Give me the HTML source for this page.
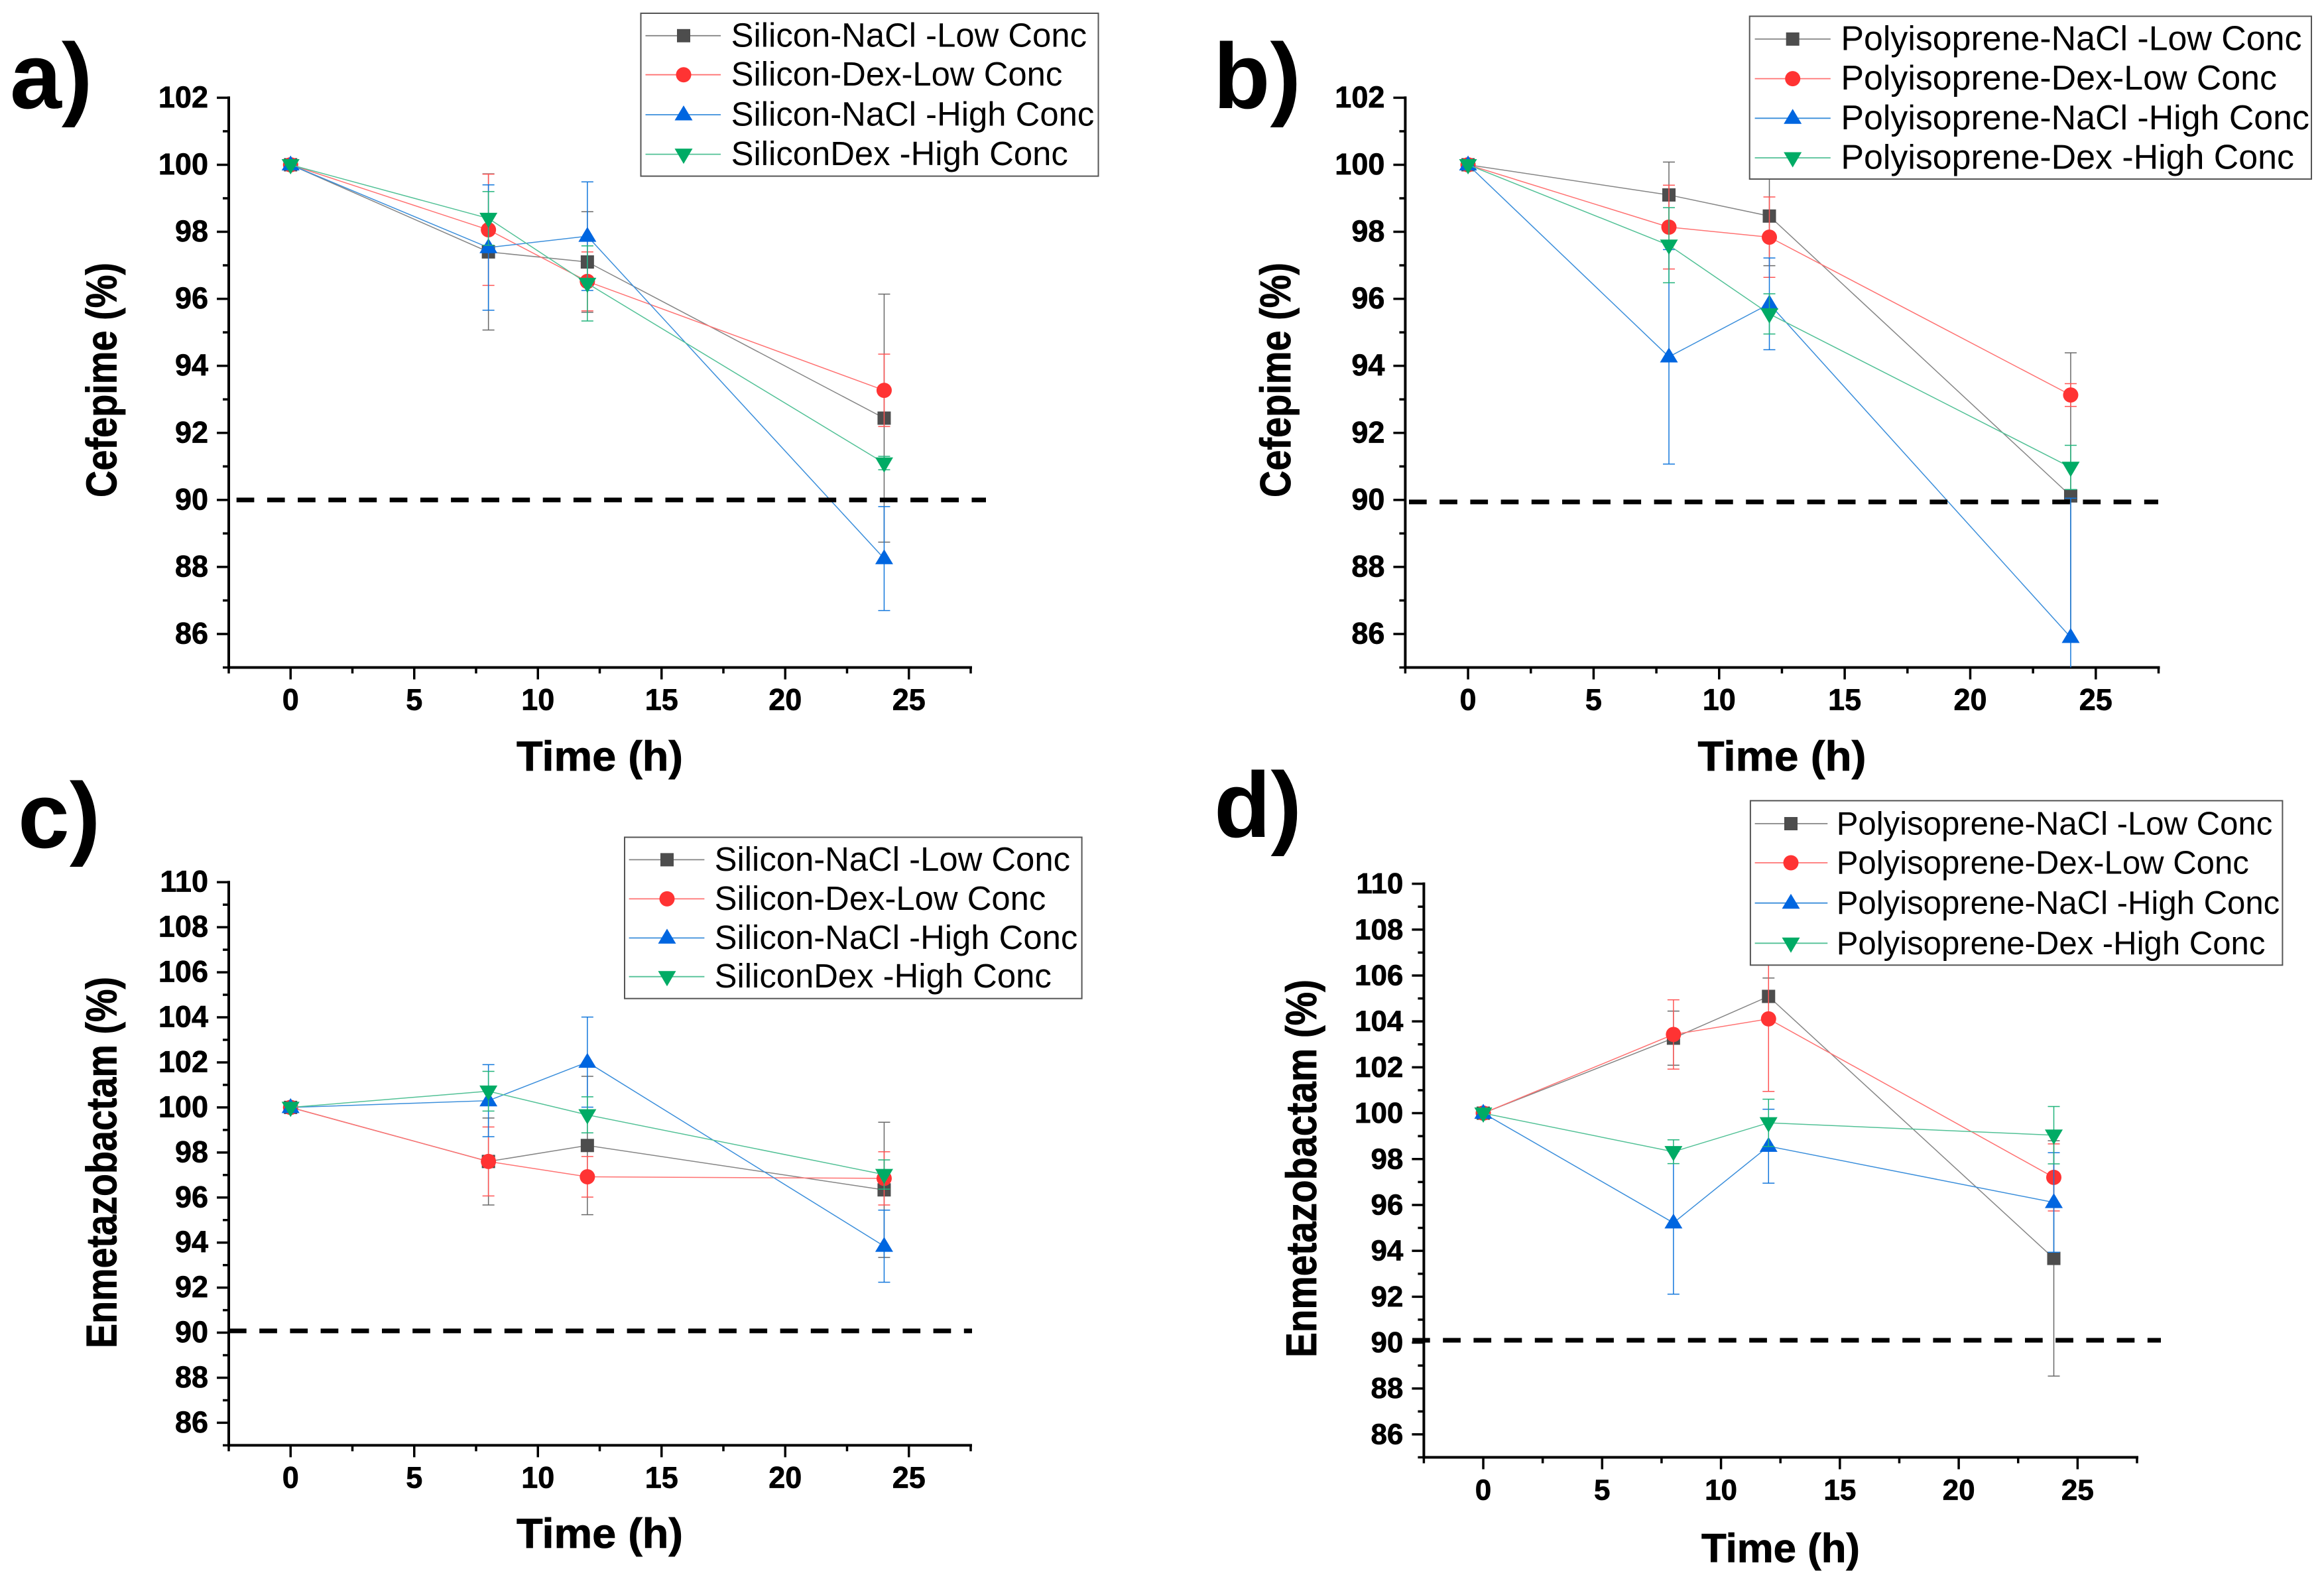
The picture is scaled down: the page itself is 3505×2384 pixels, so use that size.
<!DOCTYPE html>
<html lang="en">
<head>
<meta charset="utf-8">
<title>Cefepime and Enmetazobactam stability over time</title>
<style>
html,body{margin:0;padding:0;background:#fff;}
svg{display:block;font-family:"Liberation Sans",Arial,sans-serif;}
</style>
</head>
<body>
<svg id="figure" xmlns="http://www.w3.org/2000/svg" width="3505" height="2384" viewBox="0 0 3505 2384">
<rect x="0" y="0" width="3505" height="2384" fill="#ffffff"/>
</svg>
<script>
// ---------- shared categories and tick labels ----------
const times = [0, 8, 12, 24];
const xMajorTicks = [0, 5, 10, 15, 20, 25];
const xMinorTicks = [-2.5, 2.5, 7.5, 12.5, 17.5, 22.5, 27.5];
const cefepimeTicks = [86, 88, 90, 92, 94, 96, 98, 100, 102];
const enmetazobactamTicks = [86, 88, 90, 92, 94, 96, 98, 100, 102, 104, 106, 108, 110];

// ---------- legend labels ----------
const siliconNames = ["Silicon-NaCl -Low Conc", "Silicon-Dex-Low Conc", "Silicon-NaCl -High Conc", "SiliconDex -High Conc"];
const polyisopreneNames = ["Polyisoprene-NaCl -Low Conc", "Polyisoprene-Dex-Low Conc", "Polyisoprene-NaCl -High Conc", "Polyisoprene-Dex -High Conc"];

// ---------- panel a: Silicon, Cefepime ----------
const aNaclLow = [100, 97.4, 97.1, 92.44];
const aNaclLowErr = [0, 2.33, 1.5, 3.7];
const aDexLow = [100, 98.06, 96.52, 93.27];
const aDexLowErr = [0, 1.66, 0.88, 1.08];
const aNaclHigh = [100, 97.53, 97.87, 88.25];
const aNaclHighErr = [0, 1.87, 1.62, 1.55];
const aDexHigh = [100, 98.4, 96.46, 91.1];
const aDexHighErr = [0, 0.8, 1.12, 0.2];

// ---------- panel b: Polyisoprene, Cefepime ----------
const bNaclLow = [100, 99.1, 98.47, 90.12];
const bNaclLowErr = [0, 0.98, 1.48, 4.27];
const bDexLow = [100, 98.14, 97.84, 93.13];
const bDexLowErr = [0, 1.25, 1.2, 0.34];
const bNaclHigh = [100, 94.27, 95.85, 85.9];
const bNaclHighErr = [0, 3.2, 1.37, 4.15];
const bDexHigh = [100, 97.6, 95.55, 90.97];
const bDexHighErr = [0, 1.12, 0.6, 0.66];

// ---------- panel c: Silicon, Enmetazobactam ----------
const cNaclLow = [100, 97.6, 98.31, 96.34];
const cNaclLowErr = [0, 1.93, 3.07, 3.0];
const cDexLow = [100, 97.6, 96.92, 96.85];
const cDexLowErr = [0, 1.53, 0.9, 1.18];
const cNaclHigh = [100, 100.3, 102.01, 93.84];
const cNaclHighErr = [0, 1.6, 2.0, 1.6];
const cDexHigh = [100, 100.72, 99.67, 97.02];
const cDexHighErr = [0, 0.88, 0.8, 0.65];

// ---------- panel d: Polyisoprene, Enmetazobactam ----------
const dNaclLow = [100, 103.27, 105.09, 93.67];
const dNaclLowErr = [0, 1.18, 0.8, 5.13];
const dDexLow = [100, 103.43, 104.11, 97.2];
const dDexLowErr = [0, 1.51, 3.16, 1.46];
const dNaclHigh = [100, 95.22, 98.56, 96.11];
const dNaclHighErr = [0, 3.11, 1.61, 2.17];
const dDexHigh = [100, 98.32, 99.58, 99.04];
const dDexHighErr = [0, 0.52, 1.03, 1.25];

// ---------- reference line values ----------
const aLimit = 90;
const bLimit = 89.94;
const cLimit = 90.08;
const dLimit = 90.1;

// ---------- series styling ----------
const markerColors = ["#4d4d4d", "#ff3333", "#0066e0", "#00ab65"];
const lineColors = ["#858585", "#ff7272", "#3a8edb", "#52c196"];
const errorColors = ["#6a6a6a", "#ff5555", "#1478dc", "#22b47c"];
const markerKinds = ["square", "circle", "up", "down"];
const seriesKeys = ["nacl-low", "dex-low", "nacl-high", "dex-high"];

// ---------- panel layouts ----------
const panels = [
  { key: "a", letter: "a)", letterX: 15, letterY: 163, letterSize: 140,
    left: 345, right: 1464, top: 147.4, bottom: 1006.5, yMax: 102, yTicks: cefepimeTicks, tickFont: 45,
    yTitle: "Cefepime (%)", yTitleX: 175.6, yTitleY: 573, yTitleLen: 354, yTitleFont: 65,
    xTitleX: 779, xTitleLen: 251, xTitleY: 1162, xTitleFont: 63,
    limit: aLimit, dashFrom: 356.7, dashTo: 1487,
    series: [aNaclLow, aDexLow, aNaclHigh, aDexHigh], errors: [aNaclLowErr, aDexLowErr, aNaclHighErr, aDexHighErr],
    names: siliconNames, legend: { x: 966.5, y: 20, w: 690, h: 245.6, rows: [53.8, 112.7, 173, 232.6], lineFrom: 973.5, lineTo: 1087, marker: 1031, text: 1102.6, font: 50.8 } },
  { key: "b", letter: "b)", letterX: 1830, letterY: 163, letterSize: 140,
    left: 2119.4, right: 3255.5, top: 147.4, bottom: 1006.5, yMax: 102, yTicks: cefepimeTicks, tickFont: 45,
    yTitle: "Cefepime (%)", yTitleX: 1946, yTitleY: 573, yTitleLen: 354, yTitleFont: 65,
    xTitleX: 2560.5, xTitleLen: 254, xTitleY: 1162, xTitleFont: 63,
    limit: bLimit, dashFrom: 2125, dashTo: 3255,
    series: [bNaclLow, bDexLow, bNaclHigh, bDexHigh], errors: [bNaclLowErr, bDexLowErr, bNaclHighErr, bDexHighErr],
    names: polyisopreneNames, legend: { x: 2638.7, y: 24.5, w: 847.3, h: 245.5, rows: [58.9, 118.6, 178.3, 238], lineFrom: 2646.6, lineTo: 2760.8, marker: 2703.7, text: 2776.4, font: 51.9 } },
  { key: "c", letter: "c)", letterX: 27, letterY: 1278, letterSize: 140,
    left: 345, right: 1464, top: 1330.2, bottom: 2179.4, yMax: 110, yTicks: enmetazobactamTicks, tickFont: 45,
    yTitle: "Enmetazobactam (%)", yTitleX: 175.6, yTitleY: 1753, yTitleLen: 560, yTitleFont: 65,
    xTitleX: 779, xTitleLen: 251, xTitleY: 2334, xTitleFont: 63,
    limit: cLimit, dashFrom: 345, dashTo: 1466,
    series: [cNaclLow, cDexLow, cNaclHigh, cDexHigh], errors: [cNaclLowErr, cDexLowErr, cNaclHighErr, cDexHighErr],
    names: siliconNames, legend: { x: 942, y: 1262.5, w: 689.6, h: 243.2, rows: [1296.4, 1355.4, 1414.4, 1472.7], lineFrom: 948.6, lineTo: 1062.4, marker: 1006, text: 1077.6, font: 50.8 } },
  { key: "d", letter: "d)", letterX: 1831, letterY: 1262, letterSize: 140,
    left: 2147.4, right: 3223, top: 1332.6, bottom: 2197.5, yMax: 110, yTicks: enmetazobactamTicks, tickFont: 44,
    yTitle: "Enmetazobactam (%)", yTitleX: 1985, yTitleY: 1762, yTitleLen: 570, yTitleFont: 65,
    xTitleX: 2566, xTitleLen: 239, xTitleY: 2355.6, xTitleFont: 61,
    limit: dLimit, dashFrom: 2130, dashTo: 3259,
    series: [dNaclLow, dDexLow, dNaclHigh, dDexHigh], errors: [dNaclLowErr, dDexLowErr, dNaclHighErr, dDexHighErr],
    names: polyisopreneNames, legend: { x: 2639.9, y: 1207.4, w: 802.5, h: 247.9, rows: [1242, 1301, 1361.7, 1422.3], lineFrom: 2646.6, lineTo: 2756.3, marker: 2701, text: 2769.7, font: 49.1 } }
];

const X_MIN = -2.5, X_MAX = 27.5, Y_MIN = 85;
const SVG_NS = "http://www.w3.org/2000/svg";
const root = document.getElementById("figure");

function make(tag, attrs, parent) {
  const el = document.createElementNS(SVG_NS, tag);
  for (const k in attrs) el.setAttribute(k, attrs[k]);
  parent.appendChild(el);
  return el;
}

function drawMarker(kind, cx, cy, color, parent) {
  let el;
  if (kind === "square") {
    el = make("rect", { x: cx - 10, y: cy - 10, width: 20, height: 20, fill: color }, parent);
  } else if (kind === "circle") {
    el = make("circle", { cx: cx, cy: cy, r: 11.5, fill: color }, parent);
  } else if (kind === "up") {
    el = make("polygon", { points: (cx - 13.5) + "," + (cy + 8.5) + " " + (cx + 13.5) + "," + (cy + 8.5) + " " + cx + "," + (cy - 14), fill: color }, parent);
  } else {
    el = make("polygon", { points: (cx - 13.5) + "," + (cy - 8.5) + " " + (cx + 13.5) + "," + (cy - 8.5) + " " + cx + "," + (cy + 14.5), fill: color }, parent);
  }
  return el;
}

function drawPanel(p) {
  const xScale = v => p.left + (v - X_MIN) * (p.right - p.left) / (X_MAX - X_MIN);
  const yScale = v => p.bottom - (v - Y_MIN) * (p.bottom - p.top) / (p.yMax - Y_MIN);

  const g = make("g", {}, root);
  
  

  const letter = make("text", { x: p.letterX, y: p.letterY, "font-size": p.letterSize, "font-weight": "bold", fill: "#000" }, g);
  letter.textContent = p.letter;
  
  

  // clip region for plotted marks
  const clip = make("clipPath", { id: "clip-" + p.key }, g);
  make("rect", { x: p.left, y: 0, width: p.right - p.left + 60, height: p.bottom }, clip);

  // axes
  const axes = make("g", { stroke: "#000", fill: "none" }, g);
  
  
  const yAxis = make("line", { x1: p.left, x2: p.left, y1: p.top - 2, y2: p.bottom + 2, "stroke-width": 4 }, axes);
  
  
  const xAxis = make("line", { x1: p.left - 2, x2: p.right + 2, y1: p.bottom, y2: p.bottom, "stroke-width": 4 }, axes);
  
  

  for (const t of xMajorTicks) {
    const tick = make("line", { x1: xScale(t), x2: xScale(t), y1: p.bottom, y2: p.bottom + 18, "stroke-width": 3.5 }, axes);
    
    
    const label = make("text", { x: xScale(t), y: p.bottom + 64, "text-anchor": "middle", "font-size": p.tickFont, "font-weight": "bold", fill: "#000", stroke: "#000", "stroke-width": 0.7 }, axes);
    label.textContent = String(t);
    
    
  }
  for (const t of xMinorTicks) {
    const tick = make("line", { x1: xScale(t), x2: xScale(t), y1: p.bottom, y2: p.bottom + 9, "stroke-width": 3.5 }, axes);
    
    
  }
  for (const t of p.yTicks) {
    const tick = make("line", { x1: p.left - 18, x2: p.left, y1: yScale(t), y2: yScale(t), "stroke-width": 3.5 }, axes);
    
    
    const label = make("text", { x: p.left - 31, y: yScale(t) + 14.5, "text-anchor": "end", "font-size": p.tickFont, "font-weight": "bold", fill: "#000", stroke: "#000", "stroke-width": 0.7 }, axes);
    label.textContent = String(t);
    
    
    const minor = make("line", { x1: p.left - 9, x2: p.left, y1: yScale(t - 1), y2: yScale(t - 1), "stroke-width": 3.5 }, axes);
    
    
  }

  // axis titles
  const xTitle = make("text", { x: p.xTitleX, y: p.xTitleY, "font-size": p.xTitleFont, "font-weight": "bold", fill: "#000", stroke: "#000", "stroke-width": 0.8, textLength: p.xTitleLen, lengthAdjust: "spacingAndGlyphs" }, g);
  xTitle.textContent = "Time (h)";
  
  
  const yTitle = make("text", { transform: "translate(" + p.yTitleX + "," + (p.yTitleY + p.yTitleLen / 2) + ") rotate(-90)", x: 0, y: 0, "font-size": p.yTitleFont, "font-weight": "bold", fill: "#000", stroke: "#000", "stroke-width": 0.8, textLength: p.yTitleLen, lengthAdjust: "spacingAndGlyphs" }, g);
  yTitle.textContent = p.yTitle;
  
  

  // series
  const plot = make("g", { "clip-path": "url(#clip-" + p.key + ")" }, g);
  
  
  p.series.forEach((values, s) => {
    const sg = make("g", {}, plot);
    
    
    const pts = values.map((v, i) => xScale(times[i]) + "," + yScale(v)).join(" ");
    const line = make("polyline", { points: pts, fill: "none", stroke: lineColors[s], "stroke-width": 1.5 }, sg);
    
    
    values.forEach((v, i) => {
      const err = p.errors[s][i];
      const cx = xScale(times[i]);
      if (err > 0) {
        const bar = make("path", {
          d: "M" + cx + " " + yScale(v - err) + "V" + yScale(v + err) +
             "M" + (cx - 9) + " " + yScale(v + err) + "H" + (cx + 9) +
             "M" + (cx - 9) + " " + yScale(v - err) + "H" + (cx + 9),
          fill: "none", stroke: errorColors[s], "stroke-width": 1.5 }, sg);
        
        
      }
      const mark = drawMarker(markerKinds[s], cx, yScale(v), markerColors[s], sg);
      
      
    });
  });

  // 90% reference line
  const ref = make("line", { x1: p.dashFrom, x2: p.dashTo, y1: yScale(p.limit), y2: yScale(p.limit), stroke: "#000", "stroke-width": 7, "stroke-dasharray": "26.7 19.5" }, g);
  
  

  // legend
  const L = p.legend;
  const lg = make("g", {}, g);
  
  
  const box = make("rect", { x: L.x, y: L.y, width: L.w, height: L.h, fill: "#fff", stroke: "#555", "stroke-width": 2 }, lg);
  
  
  p.names.forEach((name, s) => {
    const entry = make("g", {}, lg);
    
    
    const sample = make("line", { x1: L.lineFrom, x2: L.lineTo, y1: L.rows[s], y2: L.rows[s], stroke: lineColors[s], "stroke-width": 1.8 }, entry);
    
    
    const mk = drawMarker(markerKinds[s], L.marker, L.rows[s], markerColors[s], entry);
    
    
    const txt = make("text", { x: L.text, y: L.rows[s] + 16.5, "font-size": L.font, fill: "#000" }, entry);
    txt.textContent = name;
    
    
  });
}

panels.forEach(drawPanel);
</script>
</body>
</html>
